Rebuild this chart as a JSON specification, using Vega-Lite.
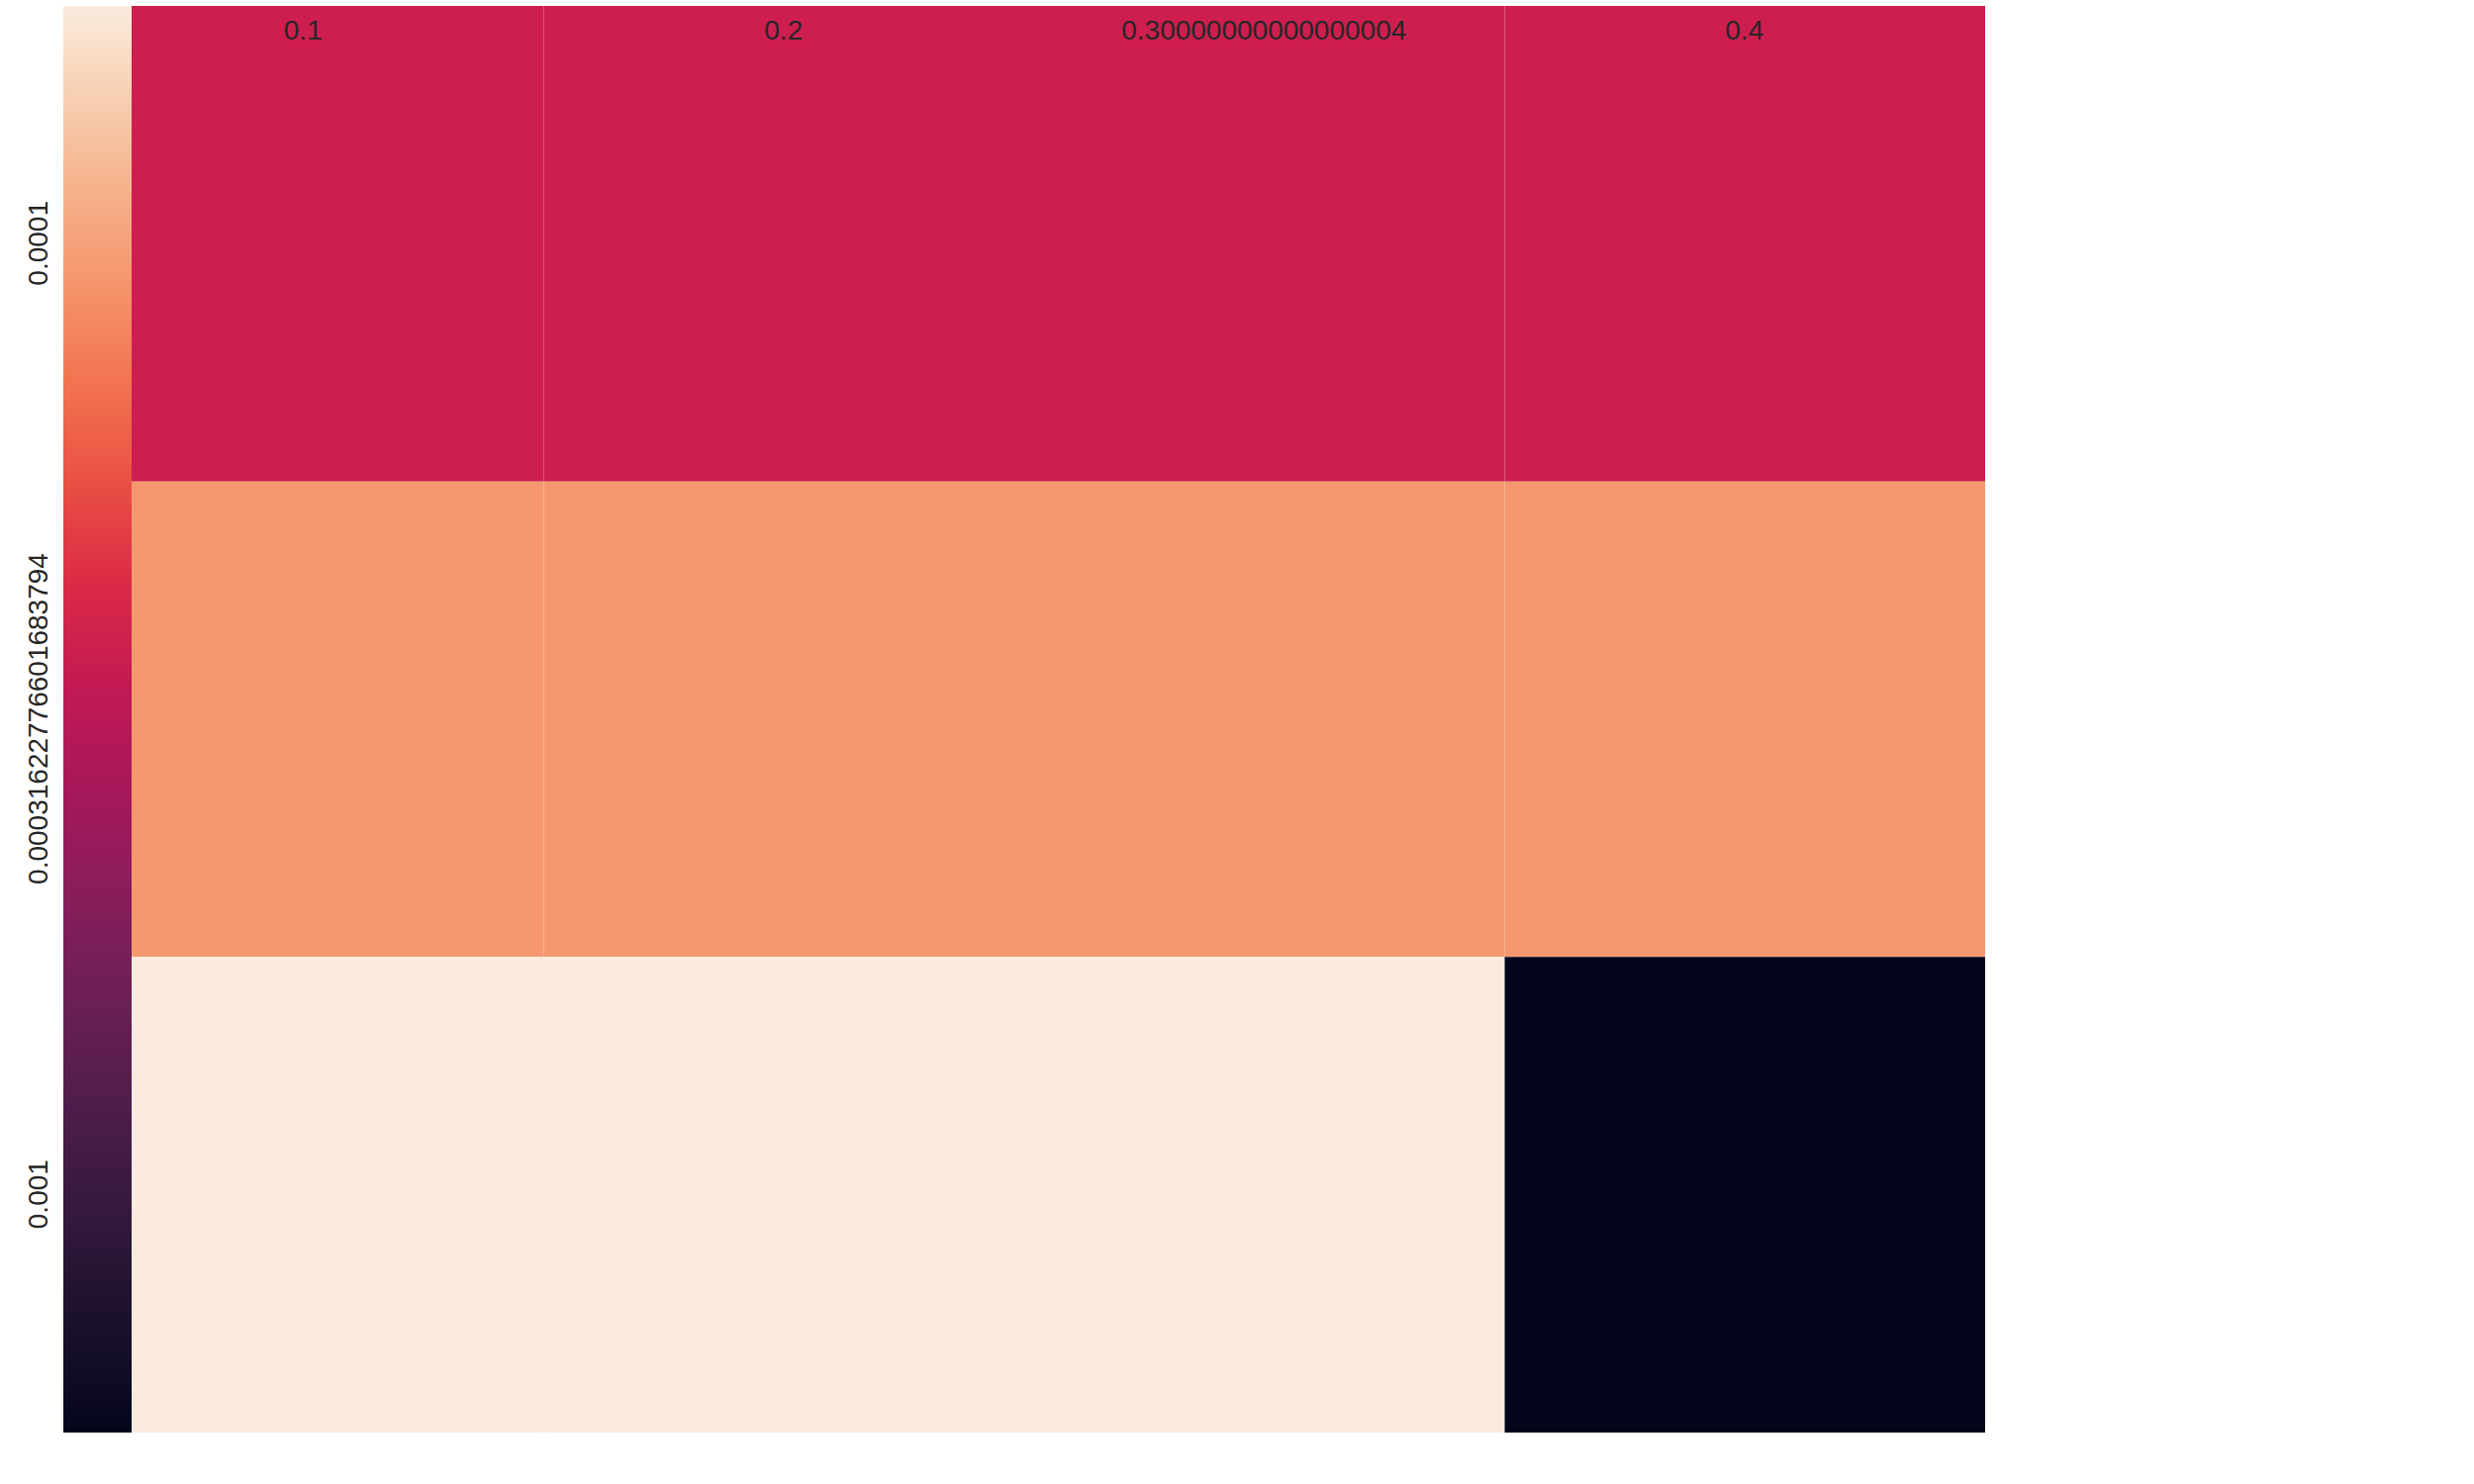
{
  "$schema": "https://vega.github.io/schema/vega-lite/v6.json",
  "autosize": "none",
  "width": 1942,
  "height": 1442,
  "padding": {"left": 64, "top": 6, "right": 552, "bottom": 52},
  "background": "white",
  "config": {"view": {"stroke": null}, "font": "Liberation Sans"},
  "data": {
    "values": [
      {"lr": "0.0001", "dropout": "0.1", "score": 0.672},
      {"lr": "0.0001", "dropout": "0.2", "score": 0.672},
      {"lr": "0.0001", "dropout": "0.30000000000000004", "score": 0.672},
      {"lr": "0.0001", "dropout": "0.4", "score": 0.672},
      {"lr": "0.00031622776601683794", "dropout": "0.1", "score": 0.690},
      {"lr": "0.00031622776601683794", "dropout": "0.2", "score": 0.690},
      {"lr": "0.00031622776601683794", "dropout": "0.30000000000000004", "score": 0.690},
      {"lr": "0.00031622776601683794", "dropout": "0.4", "score": 0.690},
      {"lr": "0.001", "dropout": "0.1", "score": 0.703},
      {"lr": "0.001", "dropout": "0.2", "score": 0.703},
      {"lr": "0.001", "dropout": "0.30000000000000004", "score": 0.703},
      {"lr": "0.001", "dropout": "0.4", "score": 0.634}
    ]
  },
  "encoding": {
    "x": {"field": "dropout", "type": "nominal", "sort": null, "title": null,
      "axis": {"orient": "bottom", "labelAngle": 0, "labelFontSize": 28, "labelColor": "#262626", "labelLimit": 0, "domain": false, "ticks": false, "labelPadding": 12}},
    "y": {"field": "lr", "type": "nominal", "sort": null, "title": null,
      "axis": {"orient": "left", "labelAngle": -90, "labelFontSize": 28, "labelColor": "#262626", "labelLimit": 0, "domain": false, "ticks": false, "labelPadding": 10}}
  },
  "layer": [
    {
      "mark": {"type": "rect"},
      "encoding": {
        "color": {"field": "score", "type": "quantitative", "title": null,
          "scale": {"domain": [0.634, 0.703], "range": ["#03051A", "#221331", "#451C47", "#6A1F56", "#921C5B", "#B91657", "#DD2C45", "#F06043", "#F5936A", "#F6BE9B", "#FAEBDD"]},
          "legend": {"orient": "right", "offset": 125, "gradientLength": 1442, "gradientThickness": 69, "labelFontSize": 28, "labelColor": "#262626", "values": [0.64, 0.65, 0.66, 0.67, 0.68, 0.69, 0.70], "format": ".2f", "labelOffset": 12, "gradientStrokeWidth": 0}}
      }
    },
    {
      "transform": [{"filter": "datum.score < 0.68"}],
      "mark": {"type": "text", "fontSize": 33, "color": "white"},
      "encoding": {"text": {"field": "score", "type": "quantitative", "format": "~.2r"}}
    },
    {
      "transform": [{"filter": "datum.score >= 0.68"}],
      "mark": {"type": "text", "fontSize": 33, "color": "#262626"},
      "encoding": {"text": {"field": "score", "type": "quantitative", "format": "~.2r"}}
    }
  ]
}
